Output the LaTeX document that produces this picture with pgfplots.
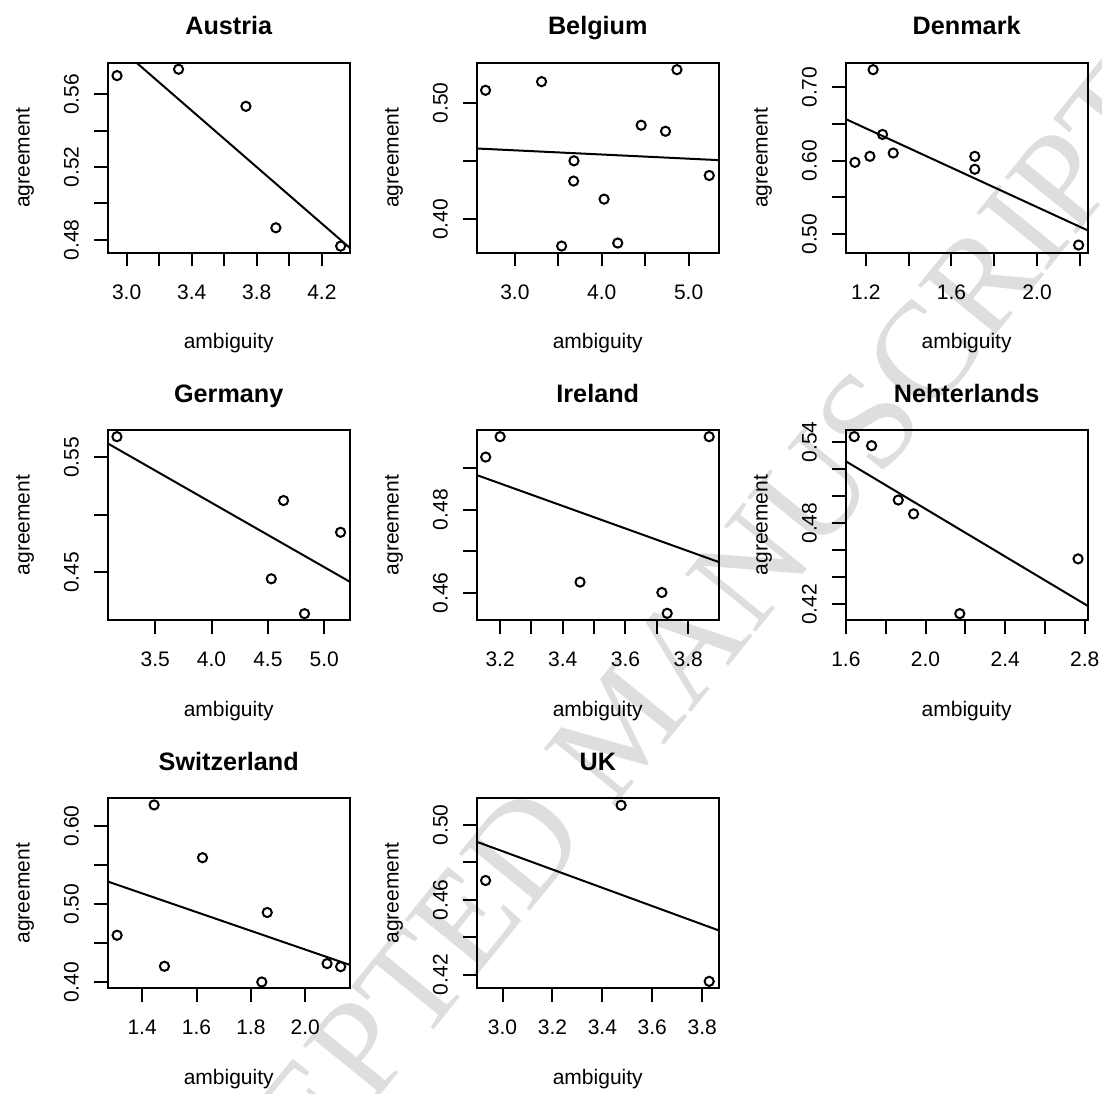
\documentclass[border=0pt]{standalone}
\usepackage{fontspec}
\setmainfont{Liberation Sans}
\newfontfamily\wmfont{Liberation Serif}
\usepackage{pgfplots}
\pgfplotsset{compat=1.18}
\pgfplotsset{
  every axis title shift=0pt,
  rpanel/.style={
    scale only axis, width=121.15pt, height=95pt,
    axis line style={line width=1pt},
    every tick/.style={black, line width=1pt},
    tick pos=left, tick align=outside, major tick length=6.8pt,
    /pgf/number format/assume math mode=true,
    tick label style={font=\fontsize{10.5}{12}\selectfont, inner sep=0pt},
    xticklabel style={anchor=north},
    yticklabel style={rotate=90, anchor=south},
    xticklabel shift={9pt},
    yticklabel shift={7.4pt},
    title style={at={(axis description cs:0.5,1)}, anchor=base, yshift=13.9pt,
      font=\bfseries\fontsize{12.6}{14}\selectfont, inner sep=0pt},
    xlabel style={at={(axis description cs:0.5,0)}, anchor=base, yshift=-48pt,
      font=\fontsize{10.5}{12}\selectfont, inner sep=0pt},
    ylabel style={at={([xshift=-39pt]axis description cs:0,0.5)}, anchor=base, rotate=0,
      font=\fontsize{10.5}{12}\selectfont, inner sep=0pt},
    xlabel={ambiguity}, ylabel={agreement},
    anchor=south west,
  },
  pts/.style={only marks, mark=o, mark size=2.3pt, mark options={line width=1pt, black}},
  fit/.style={no marks, black, line width=1pt},
}
\begin{document}
\begin{tikzpicture}
\path[use as bounding box] (0,0) rectangle (551pt,546.5pt);
\node[rotate=51, text=black!13, font=\wmfont\fontsize{69.5}{72}\selectfont, inner sep=0pt] at (311pt,184pt) {ACCEPTED MANUSCRIPT};

% Austria
\begin{axis}[rpanel, at={(53.8pt,420.15pt)}, title={Austria},
  xmin=2.883, xmax=4.372, ymin=0.4729, ymax=0.5774,
  xtick={3.0,3.2,3.4,3.6,3.8,4.0,4.2}, xticklabels={3.0,,3.4,,3.8,,4.2},
  ytick={0.48,0.50,0.52,0.54,0.56}, yticklabels={0.48,,0.52,,0.56}]
\addplot[pts] coordinates {(2.941,0.5703) (3.319,0.5738) (3.733,0.5534) (3.917,0.4866) (4.315,0.4765)};
\addplot[fit] coordinates {(2.883,0.5912) (4.372,0.4755)};
\end{axis}

% Belgium
\begin{axis}[rpanel, at={(238.3pt,420.15pt)}, title={Belgium},
  xmin=2.559, xmax=5.349, ymin=0.3714, ymax=0.5346,
  xtick={3.0,3.5,4.0,4.5,5.0}, xticklabels={3.0,,4.0,,5.0},
  ytick={0.40,0.45,0.50}, yticklabels={0.40,,0.50}]
\addplot[pts] coordinates {(2.662,0.5109) (3.307,0.5183) (4.866,0.5286) (4.454,0.4809) (4.734,0.4757) (3.680,0.4503) (3.676,0.4329) (4.027,0.4174) (5.238,0.4377) (3.538,0.3771) (4.184,0.3797)};
\addplot[fit] coordinates {(2.559,0.4609) (5.349,0.4509)};
\end{axis}

% Denmark
\begin{axis}[rpanel, at={(422.75pt,420.15pt)}, title={Denmark},
  xmin=1.105, xmax=2.237, ymin=0.4747, ymax=0.7334,
  xtick={1.2,1.4,1.6,1.8,2.0,2.2}, xticklabels={1.2,,1.6,,2.0,},
  ytick={0.50,0.55,0.60,0.65,0.70}, yticklabels={0.50,,0.60,,0.70}]
\addplot[pts] coordinates {(1.234,0.7239) (1.149,0.5977) (1.219,0.6059) (1.278,0.6357) (1.328,0.6104) (1.709,0.6059) (1.709,0.5883) (2.194,0.4851)};
\addplot[fit] coordinates {(1.105,0.6568) (2.237,0.5050)};
\end{axis}

% Germany
\begin{axis}[rpanel, at={(53.8pt,236.5pt)}, title={Germany},
  xmin=3.077, xmax=5.228, ymin=0.4087, ymax=0.5738,
  xtick={3.5,4.0,4.5,5.0}, xticklabels={3.5,4.0,4.5,5.0},
  ytick={0.45,0.50,0.55}, yticklabels={0.45,,0.55}]
\addplot[pts] coordinates {(3.160,0.5680) (4.639,0.5125) (5.145,0.4849) (4.530,0.4445) (4.825,0.4142)};
\addplot[fit] coordinates {(3.077,0.5622) (5.228,0.4419)};
\end{axis}

% Ireland
\begin{axis}[rpanel, at={(238.3pt,236.5pt)}, title={Ireland},
  xmin=3.125, xmax=3.898, ymin=0.4535, ymax=0.4991,
  xtick={3.2,3.3,3.4,3.5,3.6,3.7,3.8}, xticklabels={3.2,,3.4,,3.6,,3.8},
  ytick={0.46,0.47,0.48,0.49}, yticklabels={0.46,,0.48,}]
\addplot[pts] coordinates {(3.154,0.4926) (3.200,0.4975) (3.867,0.4975) (3.455,0.4626) (3.716,0.4601) (3.733,0.4551)};
\addplot[fit] coordinates {(3.125,0.4883) (3.898,0.4674)};
\end{axis}

% Nehterlands
\begin{axis}[rpanel, at={(422.75pt,236.5pt)}, title={Nehterlands},
  xmin=1.598, xmax=2.815, ymin=0.4084, ymax=0.5489,
  xtick={1.6,1.8,2.0,2.2,2.4,2.6,2.8}, xticklabels={1.6,,2.0,,2.4,,2.8},
  ytick={0.42,0.44,0.46,0.48,0.50,0.52,0.54}, yticklabels={0.42,,,0.48,,,0.54}]
\addplot[pts] coordinates {(1.642,0.5440) (1.729,0.5373) (1.863,0.4971) (1.940,0.4869) (2.766,0.4536) (2.172,0.4131)};
\addplot[fit] coordinates {(1.598,0.5259) (2.815,0.4188)};
\end{axis}

% Switzerland
\begin{axis}[rpanel, at={(53.8pt,52.35pt)}, title={Switzerland},
  xmin=1.273, xmax=2.164, ymin=0.3923, ymax=0.6354,
  xtick={1.4,1.6,1.8,2.0}, xticklabels={1.4,1.6,1.8,2.0},
  ytick={0.40,0.45,0.50,0.55,0.60}, yticklabels={0.40,,0.50,,0.60}]
\addplot[pts] coordinates {(1.444,0.6269) (1.622,0.5594) (1.308,0.4602) (1.482,0.4205) (1.860,0.4893) (1.840,0.4004) (2.080,0.4239) (2.130,0.4200)};
\addplot[fit] coordinates {(1.273,0.5290) (2.164,0.4222)};
\end{axis}

% UK
\begin{axis}[rpanel, at={(238.3pt,52.35pt)}, title={UK},
  xmin=2.896, xmax=3.867, ymin=0.4127, ymax=0.5142,
  xtick={3.0,3.2,3.4,3.6,3.8}, xticklabels={3.0,3.2,3.4,3.6,3.8},
  ytick={0.42,0.44,0.46,0.48,0.50}, yticklabels={0.42,,0.46,,0.50}]
\addplot[pts] coordinates {(2.932,0.4703) (3.475,0.5105) (3.828,0.4164)};
\addplot[fit] coordinates {(2.896,0.4910) (3.867,0.4436)};
\end{axis}
\end{tikzpicture}
\end{document}
